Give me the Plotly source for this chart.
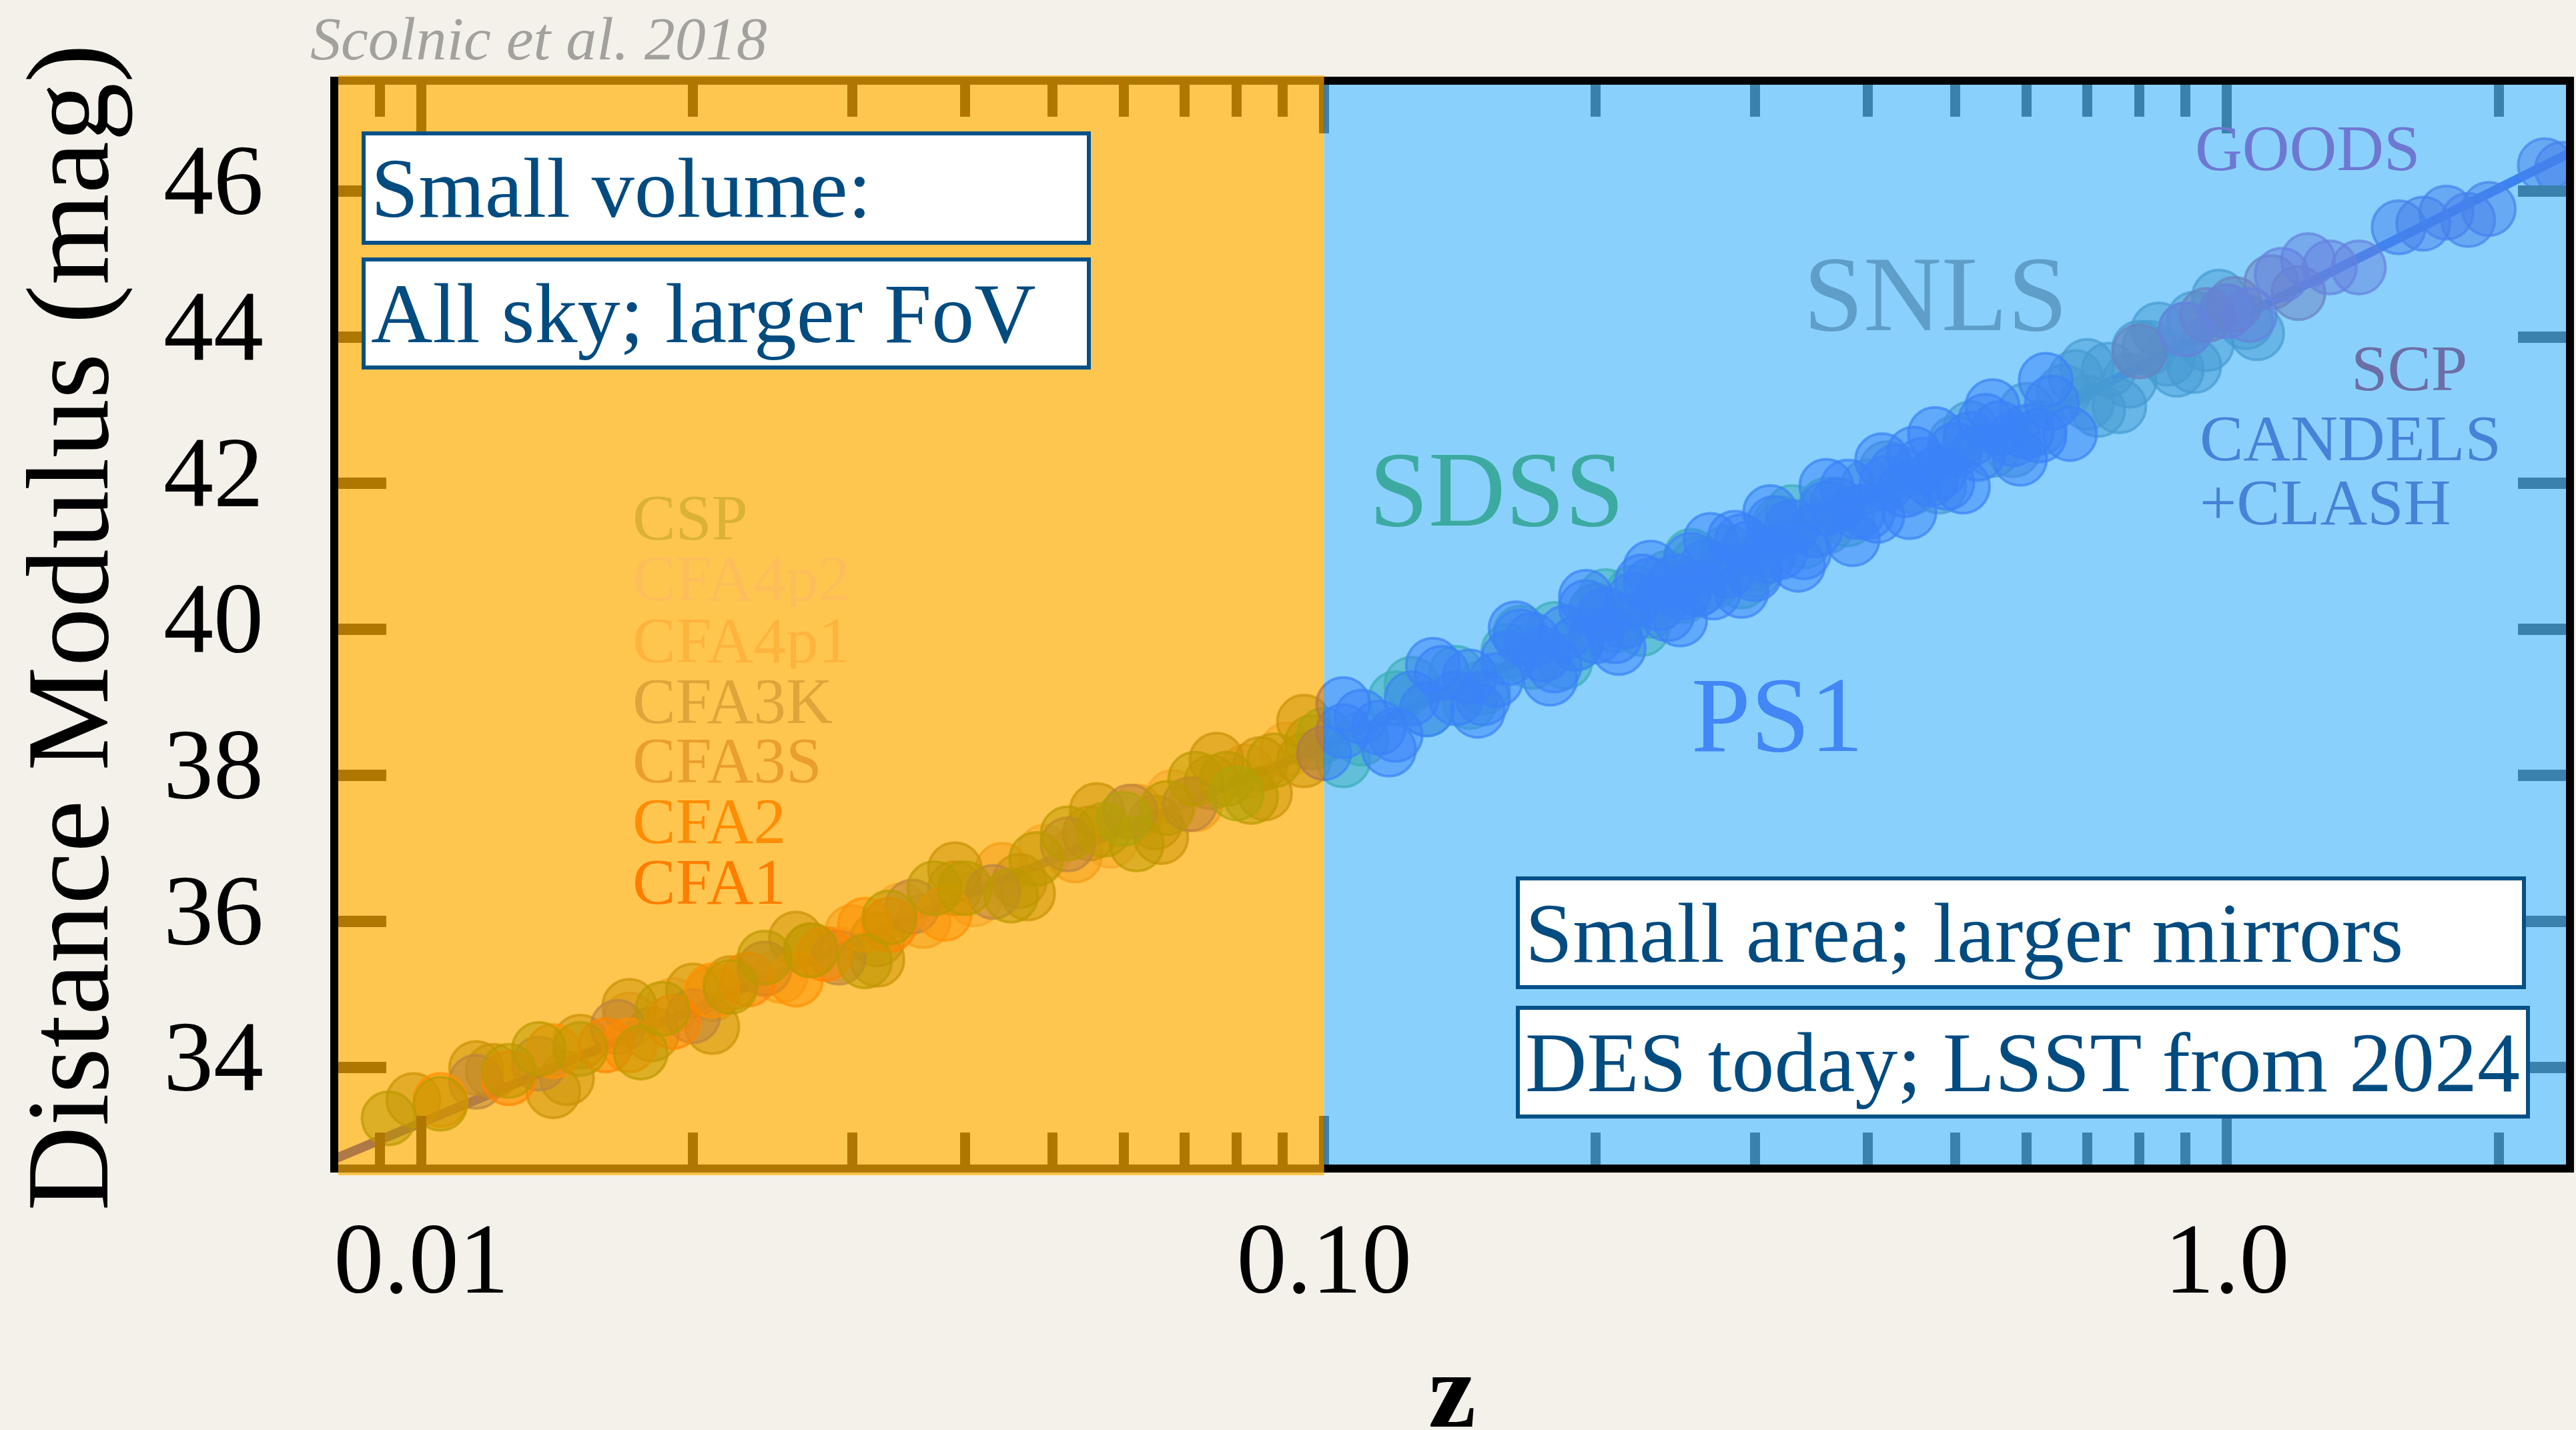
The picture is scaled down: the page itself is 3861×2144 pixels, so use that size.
import math
import plotly.graph_objects as go

# ---------------- data ----------------
line_z = [0.008, 0.01, 0.02, 0.03, 0.05, 0.07, 0.1, 0.15, 0.2, 0.3, 0.4, 0.5, 0.7, 1.0, 1.5, 2.0, 2.4]
line_mu = [32.74, 33.24, 34.77, 35.68, 36.82, 37.58, 38.40, 39.35, 40.04, 41.04, 41.76, 42.34, 43.23, 44.18, 45.27, 46.04, 46.52]

cfa1_z = [0.0125, 0.016, 0.019, 0.023, 0.028, 0.033]
cfa1_mu = [33.85, 34.30, 34.62, 35.20, 35.55, 35.95]
cfa2_z = [0.0105, 0.014, 0.017, 0.021, 0.026, 0.031, 0.038]
cfa2_mu = [33.55, 34.22, 34.30, 35.05, 35.20, 35.95, 36.10]
cfa3s_z = [0.0115, 0.0135, 0.0165, 0.02, 0.024, 0.029, 0.035, 0.043, 0.052, 0.061, 0.071]
cfa3s_mu = [33.80, 34.05, 34.55, 34.70, 35.35, 35.50, 36.20, 36.40, 37.05, 37.50, 37.60]
cfa3k_z = [0.015, 0.018, 0.022, 0.027, 0.032, 0.039, 0.046, 0.055, 0.065, 0.075, 0.085, 0.095,
           0.0098, 0.012, 0.0145, 0.02,
           0.0115, 0.014, 0.017, 0.021, 0.026, 0.032, 0.039, 0.047, 0.056, 0.066, 0.076, 0.086, 0.095]
cfa3k_mu = [34.35, 34.45, 35.15, 35.60, 35.75, 36.45, 36.55, 37.20, 37.35, 37.90, 38.15, 38.20,
            33.55, 33.95, 33.85, 35.05,
            33.99, 33.67, 34.84, 34.55, 35.76, 35.47, 36.71, 36.38, 37.52, 37.15, 38.21, 37.75, 38.73]
cfa4p1_z = [0.017, 0.021, 0.025, 0.03, 0.036, 0.044, 0.053, 0.062, 0.072, 0.082]
cfa4p1_mu = [34.65, 35.00, 35.25, 35.85, 36.00, 36.70, 36.90, 37.50, 37.60, 38.05]
cfa4p2_z = [0.019, 0.024, 0.029, 0.034, 0.041, 0.049, 0.058, 0.068, 0.091]
cfa4p2_mu = [34.85, 35.35, 35.55, 36.15, 36.30, 36.95, 37.10, 37.70, 38.35]
csp_z = [0.0092, 0.0105, 0.0125, 0.015, 0.0185, 0.022, 0.027, 0.033, 0.04, 0.048, 0.057, 0.067, 0.078, 0.088, 0.097,
         0.0135, 0.0175, 0.024, 0.031, 0.037, 0.045, 0.052, 0.062, 0.072, 0.083]
csp_mu = [33.30, 33.50, 33.95, 34.25, 34.80, 35.10, 35.60, 36.05, 36.45, 36.85, 37.25, 37.55, 37.95, 38.20, 38.45,
          34.25, 34.20, 35.50, 35.45, 36.45, 36.35, 37.20, 37.05, 37.95, 37.70]

sdss_z = [0.06, 0.08, 0.1, 0.11, 0.12, 0.13, 0.14, 0.15, 0.16, 0.17, 0.18, 0.19, 0.2,
          0.21, 0.22, 0.23, 0.24, 0.25, 0.26, 0.27, 0.28, 0.3, 0.32, 0.34, 0.36, 0.38,
          0.105, 0.125, 0.145, 0.165, 0.185, 0.205, 0.225, 0.255, 0.29, 0.33]
sdss_mu = [37.40, 37.75, 38.55, 38.50, 39.05, 38.90, 39.40, 39.20, 39.70, 39.55, 40.00, 39.80, 40.25,
           40.05, 40.50, 40.25, 40.70, 40.45, 40.90, 40.65, 41.05, 40.90, 41.45, 41.20, 41.70, 41.50,
           38.20, 39.25, 39.00, 39.95, 39.55, 40.45, 40.00, 41.00, 40.65, 41.60]
ps1_z = [0.1, 0.105, 0.115, 0.125, 0.13, 0.145, 0.155, 0.16, 0.175, 0.185, 0.19, 0.205, 0.215, 0.22,
         0.235, 0.245, 0.25, 0.265, 0.28, 0.295, 0.31, 0.33, 0.35, 0.37, 0.39, 0.42, 0.44, 0.46, 0.48,
         0.5, 0.53, 0.56, 0.6, 0.64,
         0.11, 0.14, 0.17, 0.2, 0.23, 0.26, 0.29, 0.32, 0.36, 0.4, 0.43, 0.47, 0.52, 0.58,
         0.12, 0.135, 0.15, 0.165, 0.18, 0.195, 0.21, 0.225, 0.24, 0.255, 0.27, 0.285, 0.3, 0.315,
         0.34, 0.38, 0.41, 0.45, 0.49, 0.54, 0.62,
         0.105, 0.118, 0.132, 0.148, 0.163, 0.178, 0.195, 0.212, 0.23, 0.248, 0.268, 0.29,
         0.312, 0.335, 0.36, 0.385, 0.415, 0.445, 0.475, 0.51, 0.55, 0.59, 0.63, 0.67]
ps1_mu = [38.30, 38.60, 38.65, 39.05, 38.90, 39.35, 39.30, 39.60, 39.65, 39.95, 39.80, 40.20, 40.10, 40.40,
          40.35, 40.65, 40.50, 40.85, 40.80, 41.10, 41.00, 41.40, 41.35, 41.70, 41.60, 42.00, 41.90, 42.25, 42.15,
          42.45, 42.40, 42.75, 42.70, 43.10,
          38.80, 39.05, 39.85, 39.90, 40.60, 40.55, 41.20, 41.05, 41.65, 41.60, 42.15, 42.05, 42.60, 42.60,
          38.55, 39.40, 39.05, 39.90, 39.50, 40.30, 39.90, 40.65, 40.20, 40.95, 40.50, 41.25, 40.75, 41.45,
          41.05, 41.95, 41.55, 42.40, 42.00, 42.85, 42.65,
          38.97, 38.35, 39.51, 38.88, 40.01, 39.32, 40.44, 39.74, 40.84, 40.13, 41.22, 40.52,
          41.60, 40.88, 41.96, 41.23, 42.31, 41.60, 42.67, 41.95, 43.05, 42.33, 43.41, 42.67]
snls_z = [0.2, 0.26, 0.32, 0.36, 0.4, 0.45, 0.5, 0.55, 0.6, 0.62, 0.66, 0.7, 0.74, 0.78, 0.82, 0.86, 0.9, 0.95, 1.0, 1.05,
          0.3, 0.42, 0.48, 0.52, 0.58, 0.68, 0.72, 0.8, 0.88, 0.92,
          0.7, 0.76, 0.84, 0.92, 0.98, 1.08]
snls_mu = [40.25, 40.55, 41.35, 41.40, 41.95, 41.95, 42.55, 42.45, 43.00, 42.75, 43.25, 43.10, 43.55, 43.40,
           43.85, 43.70, 44.10, 43.90, 44.35, 44.20,
           40.80, 42.20, 41.95, 42.75, 42.45, 43.45, 43.00, 43.85, 43.55, 44.25,
           43.60, 43.05, 44.10, 43.60, 44.55, 44.05]
scp_z = [0.8, 0.95, 1.02, 1.12, 1.2]
scp_mu = [43.80, 44.30, 44.45, 44.75, 44.60]
goods_z = [0.9, 1.0, 1.06, 1.15, 1.23, 1.3, 1.4]
goods_mu = [44.10, 44.35, 44.30, 44.85, 45.05, 44.95, 44.95]
candels_z = [1.55, 1.65, 1.75, 1.85, 1.95, 2.25, 2.35]
candels_mu = [45.50, 45.55, 45.70, 45.60, 45.75, 46.35, 46.30]

x_tick_vals = [0.01, 0.1, 1.0]
x_tick_text = ["0.01", "0.10", "1.0"]
x_minor_vals = [0.009, 0.02, 0.03, 0.04, 0.05, 0.06, 0.07, 0.08, 0.09,
                0.2, 0.3, 0.4, 0.5, 0.6, 0.7, 0.8, 0.9, 2.0]
y_tick_vals = [34, 36, 38, 40, 42, 44, 46]
y_tick_text = ["34", "36", "38", "40", "42", "44", "46"]

low_labels = ["CSP", "CFA4p2", "CFA4p1", "CFA3K", "CFA3S", "CFA2", "CFA1"]
low_label_colors = ["#DAB235", "#FDBD5A", "#FFB33F", "#DFA43A", "#EA9E30", "#FF8C05", "#FF7D00"]

# ---------------- layout geometry ----------------
W_FIG, H_FIG = 3861, 2144
L, R, T, B = 507, 3858, 127, 1746
PW, PH = R - L, B - T
X_RANGE = [-2.092, 0.3756]
Y_RANGE = [32.667, 47.452]
FONT = "Liberation Serif"


def px_x(p):
    return (p - L) / PW


def px_y(p):
    return (B - p) / PH


fig = go.Figure()

# model curve first, so the dense data band sits on top of it
fig.add_trace(go.Scatter(x=line_z, y=line_mu, mode="lines", showlegend=False,
                         hoverinfo="skip", line=dict(color="rgb(0,5,220)", width=14)))


def add_survey(z, mu, rgb):
    r, g, b = rgb
    fig.add_trace(go.Scatter(
        x=z, y=mu, mode="markers", showlegend=False, hoverinfo="skip",
        marker=dict(size=80, color=f"rgba({r},{g},{b},0.5)",
                    line=dict(color=f"rgba({r},{g},{b},0.7)", width=4)),
    ))


add_survey(cfa4p2_z, cfa4p2_mu, (230, 150, 120))
add_survey(cfa4p1_z, cfa4p1_mu, (220, 120, 70))
add_survey(cfa3k_z, cfa3k_mu, (90, 85, 20))
add_survey(cfa3s_z, cfa3s_mu, (40, 40, 200))
add_survey(cfa2_z, cfa2_mu, (255, 80, 0))
add_survey(cfa1_z, cfa1_mu, (255, 40, 0))
add_survey(csp_z, csp_mu, (40, 110, 0))
add_survey(sdss_z, sdss_mu, (0, 140, 30))
add_survey(snls_z, snls_mu, (40, 80, 120))
add_survey(ps1_z, ps1_mu, (0, 0, 240))
add_survey(scp_z, scp_mu, (150, 0, 60))
add_survey(goods_z, goods_mu, (140, 0, 160))
add_survey(candels_z, candels_mu, (40, 0, 200))

# boundary at z = 0.1 in paper coords (from the axis range)
x_split = (math.log10(0.1) - X_RANGE[0]) / (X_RANGE[1] - X_RANGE[0])

shapes = [
    dict(type="rect", xref="paper", yref="paper", x0=0, x1=x_split,
         y0=px_y(1762), y1=px_y(113), fillcolor="#FFAC00", opacity=0.69,
         line=dict(width=0), layer="above"),
    dict(type="rect", xref="paper", yref="paper", x0=x_split, x1=1.0,
         y0=0, y1=1, fillcolor="#54BCFB", opacity=0.69,
         line=dict(width=0), layer="above"),
]

annotations = []

# survey labels (low-z)
low_y = [776, 867, 960, 1051, 1140, 1231, 1322]
for txt, col, yy in zip(low_labels, low_label_colors, low_y):
    annotations.append(dict(text=txt, xref="paper", yref="paper", x=px_x(948), y=px_y(yy),
                            xanchor="left", yanchor="middle", showarrow=False, height=86,
                            font=dict(family=FONT, size=97, color=col)))

hi_labels = [
    ("SDSS", 2250, 734, 160, "#3CAAA0", "center"),
    ("PS1", 2672, 1072, 160, "#4287F5", "center"),
    ("SNLS", 2910, 440, 162, "#5F9EC8", "center"),
    ("GOODS", 3470, 222, 98, "#6E78D2", "center"),
    ("SCP", 3622, 552, 98, "#6C6EA6", "center"),
    ("CANDELS", 3305, 657, 98, "#4682D7", "left"),
    ("+CLASH", 3305, 753, 98, "#4682D7", "left"),
]
for txt, xx, yy, sz, col, anc in hi_labels:
    annotations.append(dict(text=txt, xref="paper", yref="paper", x=px_x(xx), y=px_y(yy),
                            xanchor=anc, yanchor="middle", showarrow=False,
                            font=dict(family=FONT, size=sz, color=col)))

# boxed notes
boxes = [
    ("Small volume:", 542, 197, 1093, 170),
    ("All sky; larger FoV", 542, 386, 1093, 168),
    ("Small area; larger mirrors", 2278, 1314, 1514, 169),
    ("DES today; LSST from 2024", 2278, 1508, 1520, 169),
]
BW, BP = 6, 8
for txt, x0, y0, w, h in boxes:
    annotations.append(dict(text=txt, xref="paper", yref="paper", x=px_x(x0), y=px_y(y0),
                            xanchor="left", yanchor="top", showarrow=False, align="left",
                            width=w - 2 * (BW + BP), height=h - 2 * (BW + BP),
                            bgcolor="white", bordercolor="#045088", borderwidth=BW, borderpad=BP,
                            font=dict(family=FONT, size=128, color="#004B80")))

# citation
annotations.append(dict(text="<i>Scolnic et al. 2018</i>", xref="paper", yref="paper",
                        x=px_x(463), y=px_y(58), xanchor="left", yanchor="middle", showarrow=False,
                        font=dict(family=FONT, size=92, color="#A3A19D")))
# axis titles
annotations.append(dict(text="Distance Modulus (mag)", xref="paper", yref="paper",
                        x=px_x(100), y=px_y(940), xanchor="center", yanchor="middle",
                        textangle=-90, showarrow=False,
                        font=dict(family=FONT, size=176, color="black")))
annotations.append(dict(text="<b>z</b>", xref="paper", yref="paper",
                        x=px_x(2182), y=px_y(2085), xanchor="center", yanchor="middle",
                        showarrow=False, font=dict(family=FONT, size=160, color="black")))

fig.update_layout(
    width=W_FIG, height=H_FIG, autosize=False,
    margin=dict(l=L, r=W_FIG - R, t=T, b=H_FIG - B, pad=0),
    paper_bgcolor="#F4F1EB", plot_bgcolor="white",
    shapes=shapes, annotations=annotations, showlegend=False,
    xaxis=dict(type="log", range=X_RANGE, showgrid=False, zeroline=False,
               showline=True, linecolor="black", linewidth=12, mirror="ticks",
               ticks="inside", ticklen=73, tickwidth=15, tickcolor="black",
               tickmode="array", tickvals=x_tick_vals, ticktext=x_tick_text,
               ticklabelstandoff=0,
               tickfont=dict(family=FONT, size=150, color="black"),
               minor=dict(tickmode="array", tickvals=x_minor_vals, ticks="inside",
                          ticklen=48, tickwidth=15, tickcolor="black", showgrid=False)),
    yaxis=dict(range=Y_RANGE, showgrid=False, zeroline=False,
               showline=True, linecolor="black", linewidth=12, mirror="ticks",
               ticks="inside", ticklen=72, tickwidth=17, tickcolor="black",
               tickmode="array", tickvals=y_tick_vals, ticktext=y_tick_text,
               ticklabelstandoff=70, ticklabelshift=-18,
               tickfont=dict(family=FONT, size=150, color="black")),
)

fig.write_html("out.html")
